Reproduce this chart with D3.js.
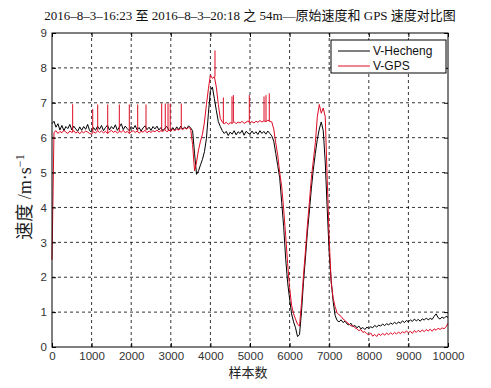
<!DOCTYPE html>
<html>
<head>
<meta charset="utf-8">
<script src="https://cdn.jsdelivr.net/npm/d3@7"></script>
<style>
  html, body { margin: 0; padding: 0; background: #fff; }
  svg { display: block; }
</style>
</head>
<body>
<svg id="chart"></svg>
<script>
// samples are taken every 50 points, 0 .. 10000
const sampleStep = 50;

// V-Hecheng (black), one row = 500 samples
const hecheng = [
  6.40, 6.47, 6.30, 6.40, 6.22, 6.35, 6.20, 6.32, 6.26, 6.38,
  6.22, 6.33, 6.25, 6.18, 6.31, 6.21, 6.32, 6.24, 6.38, 6.20,
  6.16, 6.29, 6.21, 6.33, 6.24, 6.35, 6.20, 6.29, 6.36, 6.22,
  6.32, 6.25, 6.37, 6.21, 6.30, 6.40, 6.23, 6.33, 6.26, 6.20,
  6.32, 6.25, 6.35, 6.22, 6.29, 6.19, 6.28, 6.34, 6.23, 6.30,
  6.21, 6.32, 6.25, 6.33, 6.22, 6.29, 6.20, 6.27, 6.32, 6.22,
  6.18, 6.29, 6.21, 6.31, 6.23, 6.33, 6.25, 6.30, 6.26, 6.34,
  6.28, 6.20, 5.55, 4.95, 5.05, 5.22, 5.38, 5.60, 5.98, 6.70,
  7.35, 7.45, 7.12, 6.78, 6.46, 6.32, 6.20, 6.12, 6.18, 6.06,
  6.16, 6.10, 6.20, 6.08, 6.17, 6.12, 6.21, 6.07, 6.18, 6.13,
  6.10, 6.19, 6.11, 6.17, 6.09, 6.20, 6.12, 6.18, 6.10, 6.19,
  6.12, 6.05, 5.90, 5.55, 5.20, 4.85, 4.15, 3.45, 2.55, 1.85,
  1.38, 0.95, 0.72, 0.55, 0.30, 0.35, 1.00, 1.85, 2.55, 3.30,
  3.90, 4.55, 5.10, 5.55, 5.95, 6.25, 6.45, 6.20, 5.30, 3.95,
  2.70, 1.90, 1.30, 0.90, 0.76, 0.72, 0.78, 0.70, 0.74, 0.66,
  0.63, 0.68, 0.58, 0.62, 0.55, 0.60, 0.52, 0.56, 0.50, 0.57,
  0.53, 0.58, 0.55, 0.62, 0.57, 0.63, 0.60, 0.66, 0.61, 0.67,
  0.63, 0.69, 0.65, 0.71, 0.66, 0.72, 0.68, 0.75, 0.70, 0.76,
  0.72, 0.78, 0.73, 0.80, 0.75, 0.79, 0.74, 0.81, 0.77, 0.83,
  0.78, 0.82, 0.79, 0.88, 0.95, 0.84, 0.80, 0.86, 0.82, 0.88,
  0.85
];

// V-GPS (red), same sampling, spikes kept apart below
const gps = [
  2.50, 6.15, 6.20, 6.12, 6.18, 6.14, 6.21, 6.16, 6.12, 6.19,
  6.15, 6.20, 6.13, 6.17, 6.11, 6.18, 6.14, 6.19, 6.16, 6.12,
  6.10, 6.17, 6.13, 6.20, 6.15, 6.19, 6.14, 6.18, 6.12, 6.17,
  6.21, 6.15, 6.19, 6.13, 6.18, 6.16, 6.21, 6.14, 6.18, 6.12,
  6.17, 6.20, 6.15, 6.19, 6.13, 6.18, 6.16, 6.21, 6.14, 6.19,
  6.15, 6.20, 6.17, 6.22, 6.16, 6.20, 6.18, 6.23, 6.17, 6.21,
  6.19, 6.24, 6.20, 6.25, 6.22, 6.27, 6.23, 6.28, 6.25, 6.29,
  6.26, 5.80, 5.05, 5.30, 5.65, 5.90, 6.10, 6.45, 6.95, 7.40,
  7.80, 7.70, 7.75, 7.45, 6.95, 6.55, 6.45, 6.40, 6.44, 6.38,
  6.43, 6.41, 6.46, 6.40, 6.45, 6.42, 6.47, 6.41, 6.44, 6.48,
  6.43, 6.46, 6.42, 6.47, 6.44, 6.49, 6.45, 6.48, 6.46, 6.50,
  6.47, 6.45, 6.25, 5.85, 5.50, 5.00, 4.60, 3.95, 3.20, 2.40,
  1.70, 1.20, 0.95, 0.80, 0.65, 0.60, 1.25, 2.05, 2.75, 3.50,
  4.15, 4.85, 5.35, 5.85, 6.60, 6.95, 6.70, 6.85, 6.60, 4.80,
  3.10, 1.85, 1.40, 1.15, 0.98, 0.92, 0.88, 0.80, 0.76, 0.70,
  0.66, 0.60, 0.62, 0.55, 0.52, 0.47, 0.50, 0.42, 0.44, 0.38,
  0.35, 0.40, 0.31, 0.36, 0.30, 0.38, 0.33, 0.39, 0.34, 0.40,
  0.35, 0.41, 0.36, 0.42, 0.37, 0.43, 0.38, 0.44, 0.40, 0.46,
  0.41, 0.45, 0.39, 0.47, 0.42, 0.48, 0.43, 0.49, 0.44, 0.50,
  0.46, 0.51, 0.45, 0.52, 0.48, 0.54, 0.50, 0.55, 0.52, 0.58,
  0.68
];

// single-sample GPS spikes
const spikeSamples = [522, 1028, 1154, 1407, 1700, 1952, 2164, 2374, 2770, 2860,
  2930, 2985, 3265, 4116, 4327, 4545, 4580, 4983, 5354, 5404, 5487];
const spikePeaks = [6.96, 6.82, 6.95, 6.95, 6.95, 6.95, 6.95, 6.95, 6.98, 6.98,
  6.98, 6.98, 6.98, 8.50, 7.15, 7.18, 7.22, 7.22, 7.18, 7.22, 7.27];

const xTicks = [0, 1000, 2000, 3000, 4000, 5000, 6000, 7000, 8000, 9000, 10000];
const yTicks = [0, 1, 2, 3, 4, 5, 6, 7, 8, 9];

const seriesNames = ["V-Hecheng", "V-GPS"];
const seriesColors = ["#000000", "#dd0a22"];

const titleText = "2016–8–3–16:23 至 2016–8–3–20:18 之 54m—原始速度和 GPS 速度对比图";
const xLabel = "样本数";

const width = 491, height = 388;
const margin = { top: 33, right: 43, bottom: 41, left: 52 };

const svg = d3.select("#chart")
  .attr("width", width)
  .attr("height", height)
  .attr("viewBox", [0, 0, width, height]);

const x = d3.scaleLinear([0, 10000], [margin.left, width - margin.right]);
const y = d3.scaleLinear([0, 9], [height - margin.bottom, margin.top]);

const sansFont = "'Liberation Sans', Arial, sans-serif";
const serifFont = "'Liberation Serif', 'Times New Roman', 'Noto Sans CJK SC', serif";

// grid
const grid = svg.append("g")
  .attr("stroke", "#000")
  .attr("stroke-width", 0.8)
  .attr("stroke-dasharray", "3,3");
grid.selectAll(".gx")
  .data(xTicks.slice(1, -1))
  .join("line")
    .attr("x1", d => x(d)).attr("x2", d => x(d))
    .attr("y1", y(0)).attr("y2", y(9));
grid.selectAll(".gy")
  .data(yTicks.slice(1, -1))
  .join("line")
    .attr("class", "gy")
    .attr("x1", x(0)).attr("x2", x(10000))
    .attr("y1", d => y(d)).attr("y2", d => y(d));

// curves
const line = d3.line()
  .x((d, i) => x(i * sampleStep))
  .y(d => y(d));

svg.append("path")
  .datum(hecheng)
  .attr("fill", "none")
  .attr("stroke", seriesColors[0])
  .attr("stroke-width", 1)
  .attr("d", line);

svg.append("path")
  .datum(gps)
  .attr("fill", "none")
  .attr("stroke", seriesColors[1])
  .attr("stroke-width", 1)
  .attr("d", line);

// spikes drawn from nearest gps sample up to the peak
svg.append("g")
  .attr("stroke", seriesColors[1])
  .attr("stroke-width", 1)
  .selectAll("line")
  .data(d3.range(spikeSamples.length))
  .join("line")
    .attr("x1", i => x(spikeSamples[i]))
    .attr("x2", i => x(spikeSamples[i]))
    .attr("y1", i => y(gps[Math.round(spikeSamples[i] / sampleStep)]))
    .attr("y2", i => y(spikePeaks[i]));

// axes, ticks pointing inward
svg.append("g")
  .attr("transform", `translate(0,${y(0)})`)
  .call(d3.axisBottom(x).tickValues(xTicks).tickFormat(d3.format("d")).tickSize(-4).tickPadding(5))
  .call(g => g.select(".domain").remove());

svg.append("g")
  .attr("transform", `translate(${x(0)},0)`)
  .call(d3.axisLeft(y).tickValues(yTicks).tickFormat(d3.format("d")).tickSize(-4).tickPadding(5))
  .call(g => g.select(".domain").remove());

svg.append("g")
  .attr("transform", `translate(0,${y(9)})`)
  .call(d3.axisTop(x).tickValues(xTicks).tickFormat("").tickSize(-4))
  .call(g => g.select(".domain").remove());
svg.append("g")
  .attr("transform", `translate(${x(10000)},0)`)
  .call(d3.axisRight(y).tickValues(yTicks).tickFormat("").tickSize(-4))
  .call(g => g.select(".domain").remove());

svg.selectAll(".tick text")
  .attr("fill", "#333")
  .style("font-family", sansFont)
  .style("font-size", "11.5px");

// frame
svg.append("rect")
  .attr("x", x(0)).attr("y", y(9))
  .attr("width", x(10000) - x(0))
  .attr("height", y(0) - y(9))
  .attr("fill", "none")
  .attr("stroke", "#000")
  .attr("stroke-width", 1);

// title and labels
svg.append("text")
  .attr("x", 250).attr("y", 20)
  .attr("text-anchor", "middle")
  .style("font-family", serifFont)
  .style("font-size", "13px")
  .attr("fill", "#111")
  .text(titleText);

svg.append("text")
  .attr("x", 248).attr("y", 377)
  .attr("text-anchor", "middle")
  .style("font-family", "'Noto Sans CJK SC', sans-serif")
  .style("font-size", "13px")
  .attr("fill", "#222")
  .text(xLabel);

const yLab = svg.append("text")
  .attr("transform", "translate(31,197) rotate(-90)")
  .attr("text-anchor", "middle")
  .style("font-family", serifFont)
  .style("font-size", "18px")
  .attr("fill", "#222");
yLab.append("tspan").text("速度 /m·s");
yLab.append("tspan").attr("dy", -7).style("font-size", "12px").text("−1");

// legend
const legend = svg.append("g").attr("transform", "translate(331,40)");
legend.append("rect")
  .attr("width", 115).attr("height", 33)
  .attr("fill", "#fff")
  .attr("stroke", "#000")
  .attr("stroke-width", 1);
const item = legend.selectAll("g.item")
  .data(seriesNames)
  .join("g")
    .attr("class", "item")
    .attr("transform", (d, i) => `translate(0,${11 + i * 15})`);
item.append("line")
  .attr("x1", 7).attr("x2", 39)
  .attr("stroke", (d, i) => seriesColors[i])
  .attr("stroke-width", 1);
item.append("text")
  .attr("x", 42).attr("dy", "0.35em")
  .style("font-family", sansFont)
  .style("font-size", "12px")
  .attr("fill", "#111")
  .text(d => d);
</script>
</body>
</html>
